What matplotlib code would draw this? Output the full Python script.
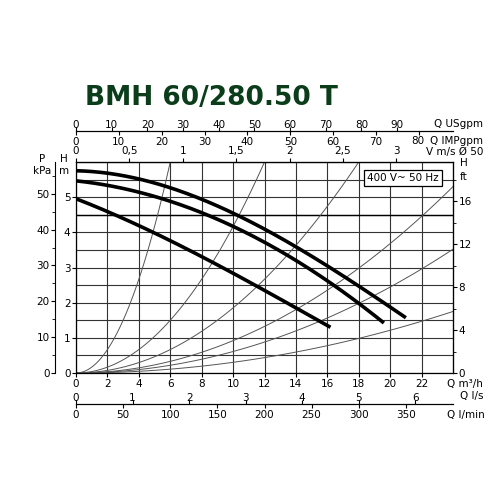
import matplotlib
matplotlib.use("Agg")
import matplotlib.pyplot as plt
import numpy as np

# pump curves (Q m3/h, H m)
q_top = [0, 2, 4, 6, 8, 10, 12, 14, 16, 18, 20, 21]
h_top = [5.75, 5.7, 5.5, 5.25, 4.95, 4.55, 4.1, 3.6, 3.05, 2.45, 1.85, 1.6]
q_mid = [0, 2, 4, 6, 8, 10, 12, 14, 16, 18, 19.6]
h_mid = [5.45, 5.35, 5.15, 4.9, 4.55, 4.15, 3.7, 3.2, 2.65, 2.0, 1.4]
q_low = [0, 2, 4, 6, 8, 10, 12, 14, 16.2]
h_low = [4.95, 4.6, 4.2, 3.75, 3.3, 2.85, 2.35, 1.85, 1.3]
# system parabolas: (Q, H) endpoint each
para_q = [6, 12, 18, 24, 24, 24]
para_h = [6, 6, 6, 5.3, 3.52, 1.75]

W = 500.0
L, R = 76, 453
fig = plt.figure(figsize=(5, 5), dpi=100)
ax = fig.add_axes([L/W, 1-373/W, (R-L)/W, (373-162)/W])
ax.set_xlim(0, 24); ax.set_ylim(0, 6)
ax.set_xticks(range(0, 24, 2))
ax.set_yticks(range(0, 6))
ax.set_yticks(np.arange(0, 6.01, 0.5), minor=True)
ax.grid(True, which='both', color='#333', lw=0.8)
ax.tick_params(labelsize=7.5, length=3, pad=1)
ax.tick_params(which='minor', length=0)
for s in ax.spines.values():
    s.set_linewidth(0.9)
ax.axhline(4.5, color='black', lw=1.0)
for pq, ph in zip(para_q, para_h):
    x = np.linspace(0, pq, 100)
    ax.plot(x, ph*(x/pq)**2, color='#555', lw=0.7)
for q, h in [(q_top, h_top), (q_mid, h_mid), (q_low, h_low)]:
    x = np.linspace(q[0], q[-1], 200)
    c = np.polyfit(q, h, 3)
    ax.plot(x, np.polyval(c, x), color='black', lw=2.6, solid_capstyle='butt')
ax.text(20.8, 5.55, '400 V~ 50 Hz', fontsize=7.5, ha='center', va='center',
        bbox=dict(boxstyle='square,pad=0.3', fc='white', ec='black', lw=0.9))

# velocity on top spine
vax = ax.secondary_xaxis('top', functions=(lambda x: x/6.8, lambda v: v*6.8))
vax.set_xticks([0, 0.5, 1, 1.5, 2, 2.5, 3])
vax.set_xticklabels(['0', '0,5', '1', '1,5', '2', '2,5', '3'])
vax.tick_params(labelsize=7.5, length=3, pad=1)
# kPa axis
kax = fig.add_axes([55/W, 1-373/W, 0.0001, (373-162)/W])
kax.set_ylim(0, 6*9.81)
kax.set_yticks(range(0, 51, 10)); kax.set_yticks(range(0, 56, 5), minor=True)
kax.tick_params(labelsize=7.5, length=3, pad=1); kax.tick_params(which='minor', length=2)
kax.set_xticks([])
for s in ['top', 'right', 'bottom']:
    kax.spines[s].set_visible(False)
# ft axis
fax = ax.secondary_yaxis('right', functions=(lambda m: m*3.2808, lambda f: f/3.2808))
fax.set_yticks([0, 4, 8, 12, 16]); fax.set_yticks(range(0, 19, 2), minor=True)
fax.tick_params(labelsize=7.5, length=3, pad=1); fax.tick_params(which='minor', length=2)

def scale(ypix, conv, ticks, side, labels=None):
    a = fig.add_axes([L/W, 1-ypix/W, (R-L)/W, 0.0001])
    a.set_xlim(0, 24/conv); a.set_yticks([])
    for s in a.spines.values():
        s.set_visible(False)
    a.spines['bottom'].set_visible(True)
    a.set_xticks(ticks)
    if labels: a.set_xticklabels(labels)
    if side == 'top':
        a.xaxis.set_ticks_position('bottom')
        a.tick_params(axis='x', labeltop=True, labelbottom=False, direction='in')
    a.tick_params(labelsize=7.5, length=3, pad=1)
    return a

scale(131, 0.2271, range(0, 91, 10), 'top')
scale(131, 0.2728, range(0, 81, 10), 'bottom', [str(v) for v in range(0, 71, 10)] + [''])
scale(404, 3.6, range(0, 7), 'top')
scale(404, 0.06, range(0, 351, 50), 'bottom')

def t(x, y, s, **k):
    fig.text(x/W, 1-y/W, s, fontsize=7.5, **k)
t(418, 141, '80', ha='center', va='center')
t(483, 124, 'Q USgpm', ha='right', va='center')
t(483, 141, 'Q IMPgpm', ha='right', va='center')
t(483, 152, 'V m/s Ø 50', ha='right', va='center')
t(42, 159, 'P', ha='center', va='center'); t(42, 171, 'kPa', ha='center', va='center')
t(64, 159, 'H', ha='center', va='center'); t(64, 171, 'm', ha='center', va='center')
t(460, 163, 'H', ha='left', va='center'); t(460, 177, 'ft', ha='left', va='center')
t(483, 384, 'Q m³/h', ha='right', va='center')
t(483, 396, 'Q l/s', ha='right', va='center')
t(485, 415, 'Q l/min', ha='right', va='center')
fig.text(85/W, 1-98/W, 'BMH 60/280.50 T', fontsize=19, fontweight='bold',
         color='#0b3d1a', ha='left', va='center')
fig.savefig('out.png', dpi=100, facecolor='white')
